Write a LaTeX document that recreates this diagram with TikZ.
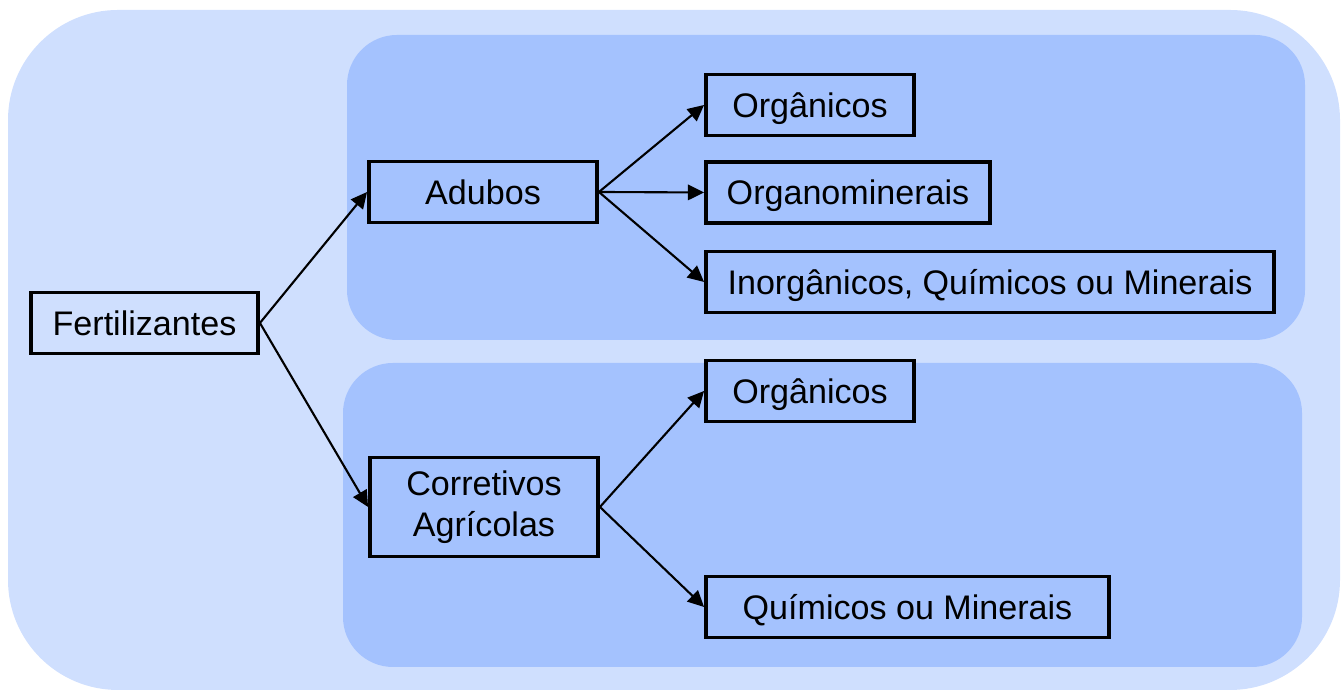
\documentclass[tikz,border=0pt]{standalone}
\usepackage{fontspec}
\setmainfont{Liberation Sans}
\usepackage{tikz}
\usetikzlibrary{arrows.meta}

\definecolor{paleblue}{RGB}{207,223,254}
\definecolor{midblue}{RGB}{164,194,254}

\begin{document}
\begin{tikzpicture}
  [cbox/.style={draw, line width=1.1pt, fill=midblue, inner sep=0,
      minimum height=0.61cm, align=center,
      font=\fontsize{9.7}{11.6}\selectfont},
   oneline/.style={cbox, text height=6.95pt, text depth=0pt},
   arr/.style={line width=0.6pt, -{Triangle[length=4.6pt, width=4.4pt]}}]
  \useasboundingbox (0, 0) rectangle (13.42, 6.91);

  % background panels
  \fill[paleblue, rounded corners=1.1cm] (0.08, 0.01) rectangle (13.40, 6.81);
  \fill[midblue, rounded corners=0.5cm] (3.47, 3.51) rectangle (13.05, 6.56);
  \fill[midblue, rounded corners=0.5cm] (3.43, 0.24) rectangle (13.02, 3.28);

  \node[oneline, fill=paleblue, minimum width=2.27cm] (fert) at (1.445, 3.68) {Fertilizantes};

  \node[oneline, minimum width=2.28cm] (adubos) at (4.83, 4.99) {Adubos};
  \node[oneline, minimum width=2.08cm] (org1) at (8.10, 5.86) {Orgânicos};
  \node[oneline, minimum width=2.84cm] (orgmin) at (8.48, 4.985) {Organominerais};
  \node[oneline, minimum width=5.68cm] (inorg) at (9.90, 4.09) {Inorgânicos, Químicos ou Minerais};

  \node[cbox, minimum width=2.28cm, minimum height=0.99cm] (corr) at (4.84, 1.84) {Corretivos\\Agrícolas};
  \node[oneline, minimum width=2.08cm] (org2) at (8.10, 3.00) {Orgânicos};
  \node[oneline, minimum width=4.03cm] (quim) at (9.075, 0.84) {Químicos ou Minerais};

  \draw[arr] (fert.east) -- (adubos.west);
  \draw[arr] (fert.east) -- (corr.west);
  \draw[arr] (adubos.east) -- (org1.west);
  \draw[arr] (adubos.east) -- (orgmin.west);
  \draw[arr] (adubos.east) -- (inorg.west);
  \draw[arr] (corr.east) -- (org2.west);
  \draw[arr] (corr.east) -- (quim.west);
\end{tikzpicture}
\end{document}
